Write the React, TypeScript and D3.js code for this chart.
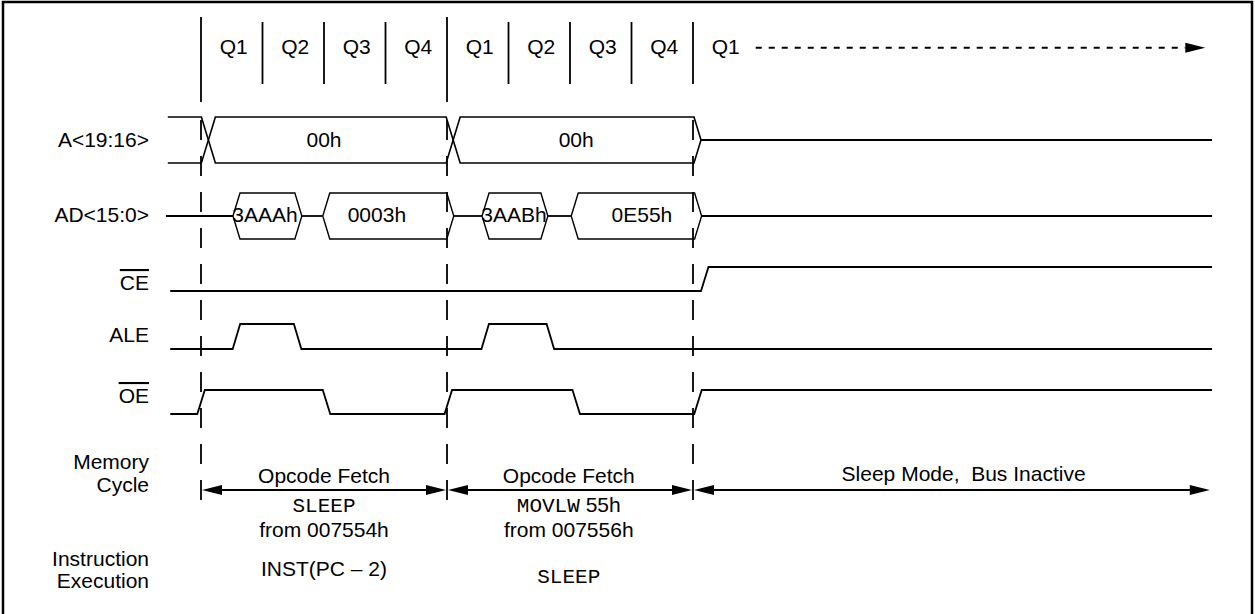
import React from "react";
import * as d3 from "d3";

// ---------- data (time measured in Q-cycle units, 0 = start of first fetch) ----------
const quarterLabels = ["Q1", "Q2", "Q3", "Q4", "Q1", "Q2", "Q3", "Q4"];
const cycleBoundaries = [0, 4];
const quarterSeparators = [1, 2, 3, 5, 6, 7, 8];
const dashedMarkers = [0, 4, 8];
const continuation = { label: "Q1", labelAt: 8.5, from: 9.02, to: 16.33 };

const signalNames = ["A<19:16>", "AD<15:0>", "CE", "ALE", "OE"];
const activeLowSignals = ["CE", "OE"];

const addrHighBus = [
  { start: -0.54, end: 0.12, label: "", labelAt: 0, openStart: true },
  { start: 0.12, end: 4.1, label: "00h", labelAt: 2.0, openStart: false },
  { start: 4.1, end: 8.13, label: "00h", labelAt: 6.1, openStart: false },
];
const adBus = [
  { start: 0.52, end: 1.64, label: "3AAAh", labelAt: 1.04 },
  { start: 1.98, end: 4.11, label: "0003h", labelAt: 2.86 },
  { start: 4.57, end: 5.64, label: "3AABh", labelAt: 5.09 },
  { start: 6.02, end: 8.14, label: "0E55h", labelAt: 7.17 },
];
const ceEdges = [8.13];
const aleEdges = [0.515, 1.51, 4.56, 5.62];
const oeEdges = [-0.06, 1.98, 3.96, 6.04, 8.02];
const busStart = -0.57;
const traceStart = -0.5;
const traceEnd = 16.44;

const memoryCycleArrows = [
  { start: 0, end: 4 },
  { start: 4, end: 8 },
  { start: 8, end: 16.42 },
];
const memoryCycleTexts = [
  { at: 2.0, lines: [[{ t: "Opcode Fetch", mono: false }], [{ t: "SLEEP", mono: true }], [{ t: "from 007554h", mono: false }]] },
  { at: 5.98, lines: [[{ t: "Opcode Fetch", mono: false }], [{ t: "MOVLW", mono: true }, { t: " 55h", mono: false }], [{ t: "from 007556h", mono: false }]] },
  { at: 12.4, lines: [[{ t: "Sleep Mode,  Bus Inactive", mono: false }]] },
];
const executionTexts = [
  { at: 2.0, t: "INST(PC \u2013 2)", mono: false },
  { at: 5.98, t: "SLEEP", mono: true },
];
const rowLabels = [
  { key: "mem", lines: ["Memory", "Cycle"] },
  { key: "exec", lines: ["Instruction", "Execution"] },
];

// ---------- component ----------
const SANS = "'Liberation Sans', Arial, Helvetica, sans-serif";
const MONO = "'Liberation Mono', 'Courier New', monospace";

export default function App() {
  const W = 1255, H = 614;
  const x = d3.scaleLinear().domain([0, 8]).range([201, 693]);
  const fs = 21;
  const lw = 1.8;

  const rows: Record<string, { hi: number; lo: number; base: number }> = {
    "A<19:16>": { hi: 117, lo: 163, base: 147 },
    "AD<15:0>": { hi: 193, lo: 239, base: 222 },
    CE: { hi: 267, lo: 291, base: 290 },
    ALE: { hi: 324, lo: 349, base: 342 },
    OE: { hi: 390, lo: 414, base: 403 },
  };
  const labelRight = 149;
  const slant = 7;
  const rise = 7.5;

  const line = d3.line<[number, number]>();

  const busPath = (seg: any, top: number, bot: number) => {
    const xs = x(seg.start), xe = x(seg.end), mid = (top + bot) / 2;
    const pts: [number, number][] = seg.openStart
      ? [[xs, top], [xe - slant, top], [xe, mid], [xe - slant, bot], [xs, bot]]
      : [[xs, mid], [xs + slant, top], [xe - slant, top], [xe, mid], [xe - slant, bot], [xs + slant, bot], [xs, mid]];
    return line(pts) as string;
  };

  const digitalPath = (edges: number[], hi: number, lo: number) => {
    let level = lo;
    const pts: [number, number][] = [[x(traceStart), level]];
    edges.forEach((e) => {
      const next = level === lo ? hi : lo;
      pts.push([x(e), level]);
      pts.push([x(e) + rise, next]);
      level = next;
    });
    pts.push([x(traceEnd), level]);
    return line(pts) as string;
  };

  const arrowHead = (tip: number, y: number, dir: number) => {
    const len = 20, hw = 5;
    return `M${tip},${y} L${tip - dir * len},${y - hw} L${tip - dir * len},${y + hw} Z`;
  };

  const A = rows["A<19:16>"];
  const AD = rows["AD<15:0>"];
  const adMid = (AD.hi + AD.lo) / 2;
  const aMid = (A.hi + A.lo) / 2;

  const adGaps: [number, number][] = [];
  let cursor = busStart;
  adBus.forEach((s) => {
    adGaps.push([cursor, s.start]);
    cursor = s.end;
  });
  adGaps.push([cursor, traceEnd]);

  const memY = 490;
  const edgeMap: Record<string, number[]> = { CE: ceEdges, ALE: aleEdges, OE: oeEdges };

  return (
    <svg width={W} height={H} style={{ position: "absolute", left: 0, top: 0, background: "#fff" }}>
      <rect x={3} y={2} width={1249} height={620} fill="none" stroke="#000" strokeWidth={2.5} />

      {quarterLabels.map((q, i) => (
        <text key={"q" + i} x={x(i + 0.5) + 2} y={54} fontFamily={SANS} fontSize={fs} textAnchor="middle">{q}</text>
      ))}
      {cycleBoundaries.map((b) => (
        <line key={"cb" + b} x1={x(b)} x2={x(b)} y1={17} y2={102} stroke="#000" strokeWidth={lw} />
      ))}
      {quarterSeparators.map((b) => (
        <line key={"qs" + b} x1={x(b)} x2={x(b)} y1={22} y2={84} stroke="#000" strokeWidth={lw} />
      ))}
      {dashedMarkers.map((b) => (
        <line key={"dm" + b} x1={x(b)} x2={x(b)} y1={104} y2={511} stroke="#000" strokeWidth={lw} strokeDasharray="20 16" strokeDashoffset={20} />
      ))}

      <text x={x(continuation.labelAt) + 2} y={54} fontFamily={SANS} fontSize={fs} textAnchor="middle">{continuation.label}</text>
      <line x1={x(continuation.from)} x2={x(continuation.to) - 20} y1={47.7} y2={47.7} stroke="#000" strokeWidth={2} strokeDasharray="6 7" />
      <path d={arrowHead(x(continuation.to), 47.7, 1)} fill="#000" />

      {signalNames.map((n) => (
        <text key={"l" + n} x={labelRight} y={rows[n].base} fontFamily={SANS} fontSize={fs} textAnchor="end"
          style={activeLowSignals.includes(n) ? { textDecoration: "overline" } : undefined}>{n}</text>
      ))}

      {addrHighBus.map((s, i) => (
        <path key={"ab" + i} d={busPath(s, A.hi, A.lo)} fill="none" stroke="#000" strokeWidth={1.6} />
      ))}
      {addrHighBus.filter((s) => s.label).map((s, i) => (
        <text key={"abt" + i} x={x(s.labelAt)} y={A.base} fontFamily={SANS} fontSize={fs} textAnchor="middle">{s.label}</text>
      ))}
      <line x1={x(addrHighBus[addrHighBus.length - 1].end)} x2={x(traceEnd)} y1={aMid} y2={aMid} stroke="#000" strokeWidth={lw} />

      {adGaps.map((g, i) => (
        <line key={"adg" + i} x1={x(g[0])} x2={x(g[1])} y1={adMid} y2={adMid} stroke="#000" strokeWidth={lw} />
      ))}
      {adBus.map((s, i) => (
        <path key={"ad" + i} d={busPath(s, AD.hi, AD.lo)} fill="none" stroke="#000" strokeWidth={1.4} />
      ))}
      {adBus.map((s, i) => (
        <text key={"adt" + i} x={x(s.labelAt)} y={AD.base} fontFamily={SANS} fontSize={fs} textAnchor="middle">{s.label}</text>
      ))}

      {Object.keys(edgeMap).map((n) => (
        <path key={"d" + n} d={digitalPath(edgeMap[n], rows[n].hi, rows[n].lo)} fill="none" stroke="#000" strokeWidth={lw} />
      ))}

      {rowLabels.map((r, ri) => (
        <text key={r.key} x={labelRight} fontFamily={SANS} fontSize={fs} textAnchor="end">
          {r.lines.map((l, li) => (
            <tspan key={li} x={labelRight} y={(ri === 0 ? 468.5 : 566) + li * (ri === 0 ? 23.2 : 21.7)}>{l}</tspan>
          ))}
        </text>
      ))}

      {memoryCycleArrows.map((a, i) => {
        const l = x(a.start) + 1, r = x(a.end) - 1;
        return (
          <g key={"ma" + i}>
            <line x1={l + 18} x2={r - 18} y1={memY} y2={memY} stroke="#000" strokeWidth={lw} />
            <path d={arrowHead(l, memY, -1)} fill="#000" />
            <path d={arrowHead(r, memY, 1)} fill="#000" />
          </g>
        );
      })}
      {memoryCycleTexts.map((c, i) => (
        <g key={"mt" + i}>
          {c.lines.map((ln, li) => (
            <text key={li} x={x(c.at)} y={[482.5, 512, 536.5][li] - (i === 2 ? 1.5 : 0)} fontSize={fs} textAnchor="middle" fontFamily={SANS}
              style={{ whiteSpace: "pre" }}>
              {ln.map((p, pi) => (
                <tspan key={pi} fontFamily={p.mono ? MONO : SANS}>{p.t}</tspan>
              ))}
            </text>
          ))}
        </g>
      ))}
      {executionTexts.map((e, i) => (
        <text key={"ex" + i} x={x(e.at)} y={e.mono ? 582.5 : 575.5} fontSize={fs} textAnchor="middle" fontFamily={e.mono ? MONO : SANS}>{e.t}</text>
      ))}
    </svg>
  );
}
